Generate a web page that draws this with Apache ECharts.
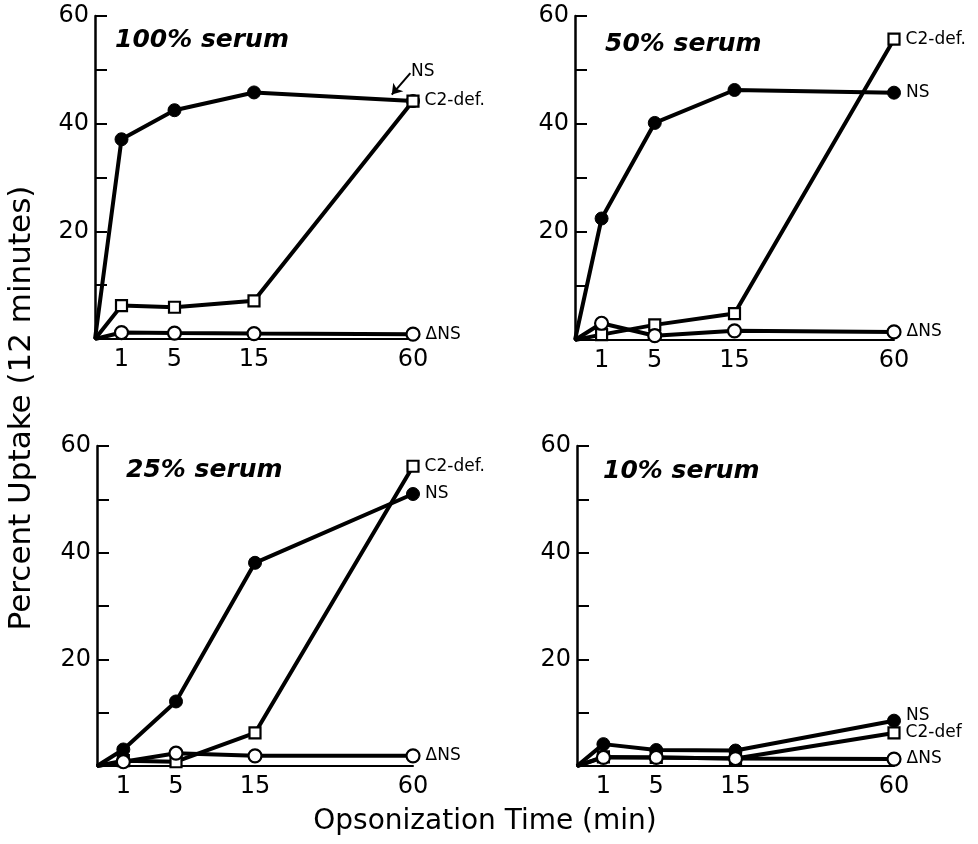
<!DOCTYPE html>
<html>
<head>
<meta charset="utf-8">
<script src="https://cdn.jsdelivr.net/npm/echarts@6/dist/echarts.min.js"></script>
<style>
html,body{margin:0;padding:0;background:#fff;}
#chart{width:978px;height:844px;}
</style>
</head>
<body>
<div id="chart"></div>
<script>
// ---- data ----
const times = [0, 1, 5, 15, 60];              // opsonization time (min)
const timeSlots = [0, 1, 3, 6, 12];           // where each time sits on the (non-linear) drawn axis
const yLabelValues = [20, 40, 60];
const panelTitles = ['100% serum', '50% serum', '25% serum', '10% serum'];

const ns100   = [0, 37.1, 42.5, 45.8, 44.2];
const c2def100= [0, 6.2, 5.9, 7.1, 44.2];
const dns100  = [0, 1.2, 1.1, 1.0, 0.9];

const ns50    = [0, 22.5, 40.2, 46.3, 45.8];
const c2def50 = [0, 1.0, 2.8, 4.9, 55.7];
const dns50   = [0, 3.1, 0.8, 1.7, 1.5];

const ns25    = [0, 3.1, 12.1, 38.1, 51.0];
const c2def25 = [0, 1.0, 0.8, 6.2, 56.2];
const dns25   = [0, 0.8, 2.4, 1.9, 1.9];

const ns10    = [0, 4.1, 3.0, 2.9, 8.5];
const c2def10 = [0, 1.7, 1.6, 1.4, 6.2];
const dns10   = [0, 1.6, 1.6, 1.4, 1.3];

const nsSets = [ns100, ns50, ns25, ns10];
const c2Sets = [c2def100, c2def50, c2def25, c2def10];
const dnsSets = [dns100, dns50, dns25, dns10];
const c2Labels = ['C2-def.', 'C2-def.', 'C2-def.', 'C2-def'];

// ---- layout ----
const grids = [
  {left: 95,  top: 16,  width: 318, height: 323},
  {left: 575, top: 16,  width: 319, height: 324},
  {left: 97,  top: 446, width: 316, height: 320},
  {left: 577, top: 446, width: 317, height: 320}
];
const titlePos = [[110, 23], [600, 27], [121, 453], [598, 454]];
const nsLabelOffset = [[-14, -29], [0, 0], [0, 0], [0, -5]];

const FONT = 'DejaVu Sans';

function buildData(values, labelText, offset) {
  return values.map((v, i) => {
    const item = {value: [timeSlots[i], v]};
    if (i === 0) item.symbol = 'none';
    if (i === values.length - 1) {
      item.label = {
        show: true, position: 'right', distance: 5,
        formatter: labelText, offset: offset || [0, 0],
        color: '#000', fontSize: 17, fontFamily: FONT
      };
    }
    return item;
  });
}

const xAxes = [], yAxes = [], series = [], titles = [];
grids.forEach((g, i) => {
  xAxes.push({
    gridIndex: i, type: 'value', min: 0, max: 12, interval: 1,
    axisLine: {show: true, lineStyle: {color: '#000', width: 2}},
    axisTick: {show: false}, splitLine: {show: false},
    axisLabel: {
      color: '#000', fontSize: 24, fontFamily: FONT, margin: 9,
      formatter: v => { const k = timeSlots.indexOf(v); return k > 0 ? String(times[k]) : ''; }
    }
  });
  yAxes.push({
    gridIndex: i, type: 'value', min: 0, max: 60, interval: 10,
    axisLine: {show: true, lineStyle: {color: '#000', width: 2.5}},
    axisTick: {show: true, inside: true, length: 12, lineStyle: {color: '#000', width: 2}},
    splitLine: {show: false},
    axisLabel: {
      color: '#000', fontSize: 24, fontFamily: FONT, margin: 6,
      formatter: v => yLabelValues.includes(v) ? String(v) : ''
    }
  });
  titles.push({
    text: panelTitles[i], left: titlePos[i][0], top: titlePos[i][1],
    textStyle: {fontFamily: FONT, fontStyle: 'italic', fontWeight: 'bold', fontSize: 25, color: '#000'}
  });
  const nsSeries = {
    type: 'line', xAxisIndex: i, yAxisIndex: i, animation: false,
    data: buildData(nsSets[i], 'NS', nsLabelOffset[i]),
    symbol: 'circle', symbolSize: 13, showAllSymbol: true,
    lineStyle: {color: '#000', width: 4}, itemStyle: {color: '#000', borderColor: '#000'}
  };
  if (i === 0) {
    nsSeries.markLine = {
      silent: true, animation: false,
      symbol: ['none', 'arrow'], symbolSize: 10,
      lineStyle: {color: '#000', width: 2, type: 'solid', curveness: 0.25},
      label: {show: false},
      data: [[{coord: [11.9, 49.4]}, {coord: [11.2, 45.4]}]]
    };
  }
  series.push(nsSeries);
  series.push({
    type: 'line', xAxisIndex: i, yAxisIndex: i, animation: false,
    data: buildData(c2Sets[i], c2Labels[i]),
    symbol: 'rect', symbolSize: 11, showAllSymbol: true,
    lineStyle: {color: '#000', width: 4}, itemStyle: {color: '#fff', borderColor: '#000', borderWidth: 2.2}
  });
  series.push({
    type: 'line', xAxisIndex: i, yAxisIndex: i, animation: false,
    data: buildData(dnsSets[i], 'ΔNS'),
    symbol: 'circle', symbolSize: 13, showAllSymbol: true,
    lineStyle: {color: '#000', width: 4}, itemStyle: {color: '#fff', borderColor: '#000', borderWidth: 2.2}
  });
});

const chart = echarts.init(document.getElementById('chart'), null, {renderer: 'canvas'});
chart.setOption({
  backgroundColor: '#fff',
  animation: false,
  title: titles,
  grid: grids,
  xAxis: xAxes,
  yAxis: yAxes,
  series: series,
  graphic: [
    {type: 'text', x: 485, y: 822, style: {text: 'Opsonization Time (min)', font: '28px "DejaVu Sans"', fill: '#000', textAlign: 'center', textVerticalAlign: 'middle'}},
    {type: 'text', x: 22, y: 408, rotation: Math.PI / 2, style: {text: 'Percent Uptake (12 minutes)', font: '31px "DejaVu Sans"', fill: '#000', textAlign: 'center', textVerticalAlign: 'middle'}}
  ]
});
</script>
</body>
</html>
